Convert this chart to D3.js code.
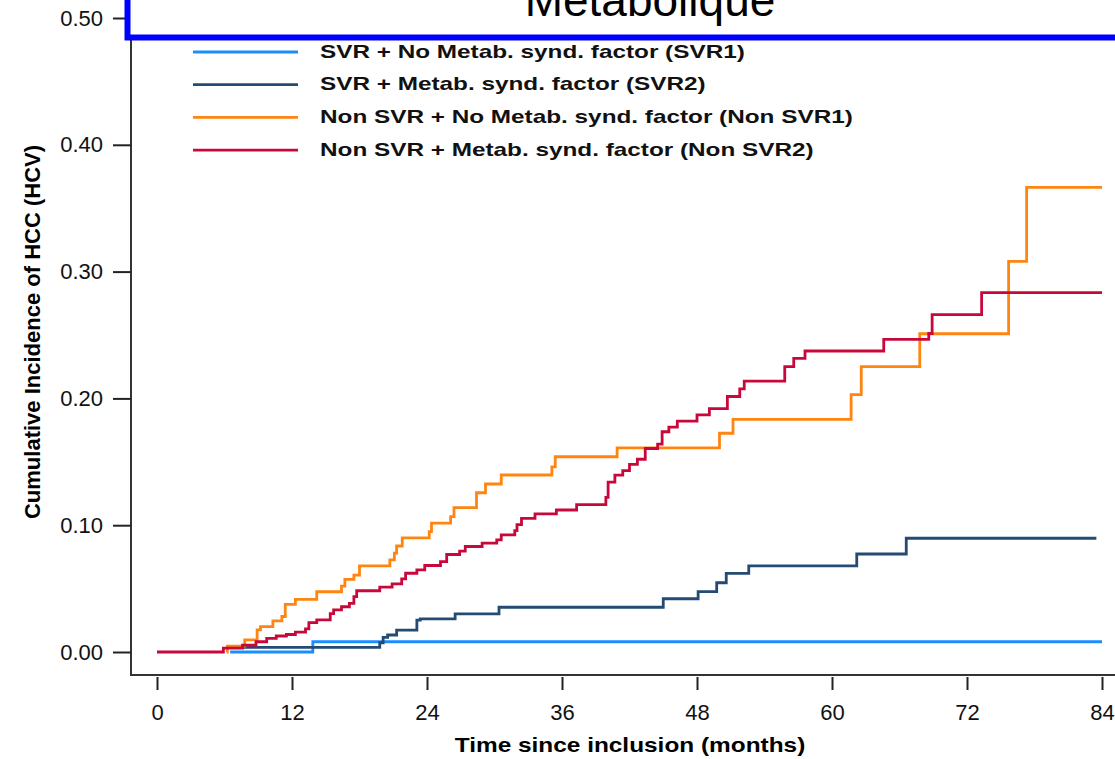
<!DOCTYPE html>
<html>
<head>
<meta charset="utf-8">
<script src="https://cdn.jsdelivr.net/npm/d3@7"></script>
<style>
  html, body { margin: 0; padding: 0; background: #fff; overflow: hidden; }
  text { font-family: "Liberation Sans", Arial, sans-serif; }
</style>
</head>
<body>
<div id="chart"></div>
<script>
  // months since inclusion / cumulative incidence
  var svr1Time = [6.5, 13.85, 84],
    svr1Cif = [0, 0.0081, 0.0081];

  var svr2Time = [6.3, 19.8, 20.1, 20.5, 21.3, 23.1, 23.4, 26.5, 30.4, 45.0, 48.1, 49.75, 50.6, 52.6, 62.2, 66.6, 83.5],
    svr2Cif = [0.0037, 0.0073, 0.0116, 0.0134, 0.0173, 0.0252, 0.0262, 0.0301, 0.0353, 0.042, 0.0476, 0.0546, 0.062, 0.068, 0.0773, 0.0897, 0.0897];

  var nonSvr1Time = [6.2, 6.25, 7.8, 8.9, 9.2, 10.3, 11.1, 11.4, 12.3, 14.2, 16.4, 16.7, 17.5, 18.0, 20.7, 21.1, 21.3, 21.8,
      24.2, 24.4, 26.1, 26.4, 28.4, 29.2, 30.6, 35.1, 35.4, 40.9, 50.0, 51.2, 61.7, 62.6, 67.8, 75.7, 77.3, 84],
    nonSvr1Cif = [0, 0.0047, 0.0095, 0.0174, 0.020, 0.0245, 0.028, 0.0376, 0.0415, 0.0475, 0.052, 0.0573, 0.0607, 0.068, 0.0726, 0.078, 0.0836, 0.090,
      0.095, 0.1017, 0.1067, 0.1138, 0.1256, 0.1325, 0.1396, 0.146, 0.154, 0.161, 0.1725, 0.1835, 0.203, 0.225, 0.251, 0.308, 0.3665, 0.3665];

  var nonSvr2Time = [0, 5.9, 7.6, 8.8, 9.75, 10.6, 11.5, 12.3, 13.2, 13.5, 14.2, 15.4, 15.7, 16.4, 17.1, 17.5, 17.75, 19.8, 20.9, 21.75,
      22.1, 23.1, 23.8, 25.2, 25.75, 26.9, 27.4, 28.9, 30.2, 30.6, 31.8, 32.0, 32.4, 33.6, 35.5, 37.3, 39.9, 40.1, 40.7, 41.4,
      42.0, 42.7, 43.4, 44.5, 44.9, 45.5, 46.25, 48.0, 49.1, 50.7, 51.8, 52.2, 55.8, 56.6, 57.6, 64.6, 68.6, 68.9, 73.3, 84],
    nonSvr2Cif = [0, 0.003, 0.0055, 0.0081, 0.0108, 0.0126, 0.0138, 0.0156, 0.0183, 0.0231, 0.0254, 0.0302, 0.0333, 0.0357, 0.0384, 0.0436, 0.0483, 0.0511, 0.0538, 0.0577,
      0.0621, 0.0647, 0.0682, 0.0712, 0.0769, 0.0795, 0.0832, 0.0858, 0.0885, 0.0923, 0.0958, 0.1005, 0.1054, 0.109, 0.112, 0.1163, 0.122, 0.134, 0.1395, 0.143,
      0.148, 0.152, 0.1605, 0.164, 0.1737, 0.1773, 0.182, 0.187, 0.192, 0.2015, 0.2075, 0.2137, 0.225, 0.2316, 0.2374, 0.2466, 0.2512, 0.266, 0.2834, 0.2834];

  var seriesNames = ['SVR + No Metab. synd. factor (SVR1)', 'SVR + Metab. synd. factor (SVR2)',
      'Non SVR + No Metab. synd. factor (Non SVR1)', 'Non SVR + Metab. synd. factor (Non SVR2)'],
    seriesColors = ['#1b8eff', '#234b73', '#ff8510', '#c8083a'],
    xTicks = [0, 12, 24, 36, 48, 60, 72, 84],
    yTicks = [0, 0.1, 0.2, 0.3, 0.4, 0.5],
    titleText = 'Metabolique';

  var width = 1115,
    height = 759;

  var series = [
    d3.zip(svr1Time, svr1Cif),
    d3.zip(svr2Time, svr2Cif),
    d3.zip(nonSvr1Time, nonSvr1Cif),
    d3.zip(nonSvr2Time, nonSvr2Cif)
  ];

  var x = d3.scaleLinear().domain([0, 84]).range([157, 1102]);
  var y = d3.scaleLinear().domain([0, 0.5]).range([652, 18]);

  var svg = d3.select('#chart')
    .append('svg')
    .attr('width', width)
    .attr('height', height);

  // frame (left + bottom)
  svg.append('path')
    .attr('d', 'M131,10 L131,675 L1120,675')
    .attr('fill', 'none')
    .attr('stroke', '#333')
    .attr('stroke-width', 2);

  var yAxis = svg.append('g')
    .attr('transform', 'translate(131,0)')
    .call(d3.axisLeft(y).tickValues(yTicks).tickFormat(d3.format('.2f')).tickSize(18).tickPadding(10));

  var xAxis = svg.append('g')
    .attr('transform', 'translate(0,677)')
    .call(d3.axisBottom(x).tickValues(xTicks).tickSize(13).tickPadding(14));

  [yAxis, xAxis].forEach(function(ax) {
    ax.select('.domain').remove();
    ax.selectAll('line').attr('stroke', '#222').attr('stroke-width', 2);
    ax.selectAll('text')
      .attr('fill', '#111')
      .style('font-family', '"Liberation Sans", Arial, sans-serif')
      .style('font-size', '22px');
  });

  svg.append('text')
    .attr('transform', 'translate(32,332) rotate(-90)')
    .attr('text-anchor', 'middle')
    .attr('dy', '0.35em')
    .style('font-size', '22px')
    .style('font-weight', 'bold')
    .text('Cumulative Incidence of HCC (HCV)');

  svg.append('text')
    .attr('transform', 'translate(630,745) scale(1.22,1)')
    .attr('text-anchor', 'middle')
    .attr('dy', '0.35em')
    .style('font-size', '20px')
    .style('font-weight', 'bold')
    .text('Time since inclusion (months)');

  var line = d3.line()
    .curve(d3.curveStepAfter)
    .x(function(d) { return x(d[0]); })
    .y(function(d) { return y(d[1]); });

  svg.selectAll('.curve')
    .data(series)
    .enter()
    .append('path')
    .attr('class', 'curve')
    .attr('d', line)
    .attr('fill', 'none')
    .attr('stroke', function(d, i) { return seriesColors[i]; })
    .attr('stroke-width', 2.8);

  // legend
  var legend = svg.selectAll('.legendItem')
    .data(seriesNames)
    .enter()
    .append('g')
    .attr('class', 'legendItem')
    .attr('transform', function(d, i) { return 'translate(0,' + (52 + i * 32.7) + ')'; });

  legend.append('line')
    .attr('x1', 193)
    .attr('x2', 298)
    .attr('stroke', function(d, i) { return seriesColors[i]; })
    .attr('stroke-width', 2.8);

  legend.append('text')
    .attr('transform', 'translate(320,-1) scale(1.28,1)')
    .attr('dy', '0.35em')
    .style('font-size', '19px')
    .style('font-weight', 'bold')
    .attr('fill', '#111')
    .text(function(d) { return d; });

  // title box, cut by the top of the picture
  svg.append('rect')
    .attr('x', 127.5)
    .attr('y', -60)
    .attr('width', 1100)
    .attr('height', 97.5)
    .attr('fill', '#fff')
    .attr('stroke', '#0000ff')
    .attr('stroke-width', 6);

  svg.append('text')
    .attr('x', 650)
    .attr('y', 16)
    .attr('text-anchor', 'middle')
    .style('font-size', '46px')
    .attr('fill', '#000')
    .text(titleText);
</script>
</body>
</html>
